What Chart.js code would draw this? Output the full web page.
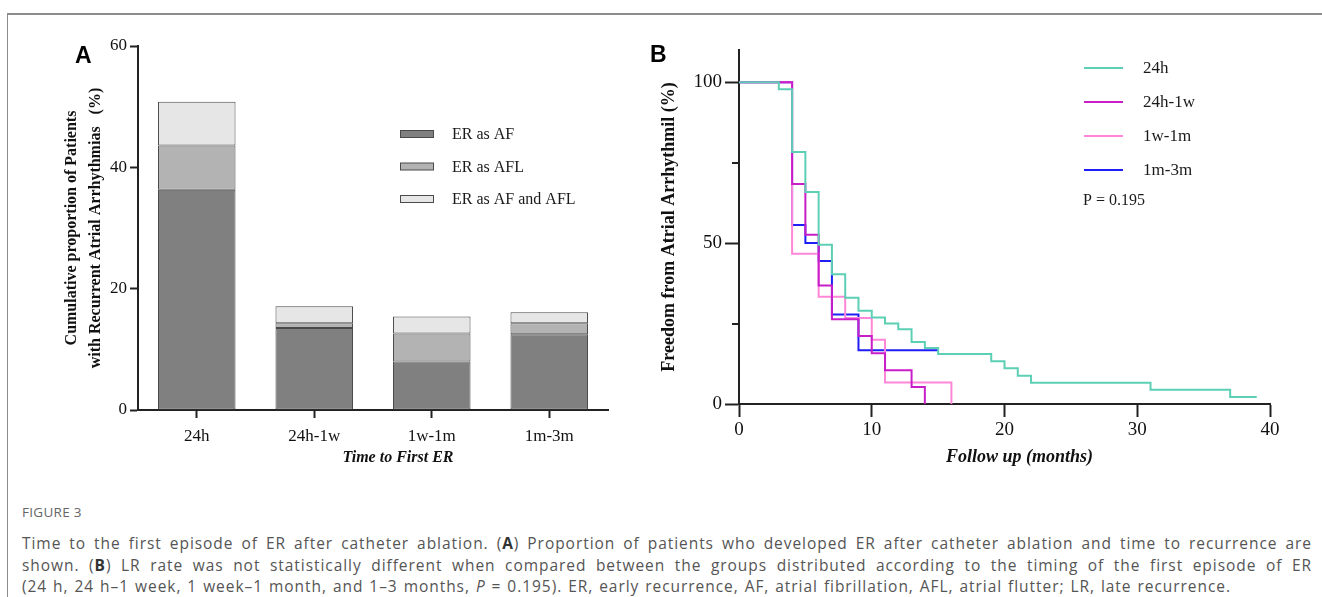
<!DOCTYPE html>
<html>
<head>
<meta charset="utf-8">
<script src="https://cdn.jsdelivr.net/npm/chart.js@4.4.1/dist/chart.umd.min.js"></script>
<style>
  html, body { margin:0; padding:0; background:#fff; }
  body { width:1322px; height:597px; position:relative; overflow:hidden; }
  #topline { position:absolute; left:7px; top:13px; width:1315px; height:2px; background:#8c8c8c; }
  #leftline { position:absolute; left:7px; top:13px; width:1px; height:584px; background:#8c8c8c; }
  #wa { position:absolute; left:0; top:0; width:640px; height:480px; }
  #wb { position:absolute; left:640px; top:0; width:682px; height:480px; }
  .plab { position:absolute; font-family:'Liberation Sans', Arial, sans-serif; font-weight:bold; font-size:23px; line-height:23px; color:#000; }
  #cap { position:absolute; left:22px; top:502px; width:1290px; font-family:'Open Sans', 'Noto Sans', sans-serif; color:#555; }
  #cap .fig { font-size:13.5px; line-height:20px; margin-bottom:11px; color:#666; letter-spacing:0.3px; }
  #cap .ln { font-size:15.5px; line-height:21.7px; white-space:nowrap; letter-spacing:0.95px; word-spacing:1px; }
  #cap .j { text-align:justify; text-align-last:justify; white-space:normal; }
  #cap b { color:#333; }
</style>
</head>
<body>
<div id="topline"></div>
<div id="leftline"></div>
<div id="wa"><canvas id="cA"></canvas></div>
<div id="wb"><canvas id="cB"></canvas></div>
<div class="plab" style="left:75px; top:44px;">A</div>
<div class="plab" style="left:650px; top:43px;">B</div>
<div id="cap">
  <div class="fig">FIGURE 3</div>
  <div class="ln j">Time to the first episode of ER after catheter ablation. (<b>A</b>) Proportion of patients who developed ER after catheter ablation and time to recurrence are</div>
  <div class="ln j">shown. (<b>B</b>) LR rate was not statistically different when compared between the groups distributed according to the timing of the first episode of ER</div>
  <div class="ln">(24&nbsp;h, 24&nbsp;h–1&nbsp;week, 1&nbsp;week–1&nbsp;month, and 1–3&nbsp;months, <i>P</i>&nbsp;=&nbsp;0.195). ER, early recurrence, AF, atrial fibrillation, AFL, atrial flutter; LR, late recurrence.</div>
</div>
<script>
// ---------- Panel A data ----------
const categories = ['24h', '24h-1w', '1w-1m', '1m-3m'];
const seriesA = ['ER as AF', 'ER as AFL', 'ER as AF and AFL'];
const erAF   = [36.3, 13.5, 8.0, 12.5];
const erAFL  = [7.3, 0.8, 4.6, 1.8];
const erBoth = [7.2, 2.8, 2.8, 1.8];
const yTicksA = [0, 20, 40, 60];

// ---------- Panel B data (Kaplan-Meier steps) ----------
const groupsB = ['24h', '24h-1w', '1w-1m', '1m-3m'];
const t24h   = [0, 3, 4, 5, 6, 7, 8, 9, 10, 11, 12, 13, 14, 15, 19, 20, 21, 22, 31, 37, 39];
const s24h   = [100, 97.8, 78.3, 65.9, 49.5, 40.3, 33.0, 29.0, 26.9, 25.0, 23.2, 19.3, 17.4, 15.5, 13.3, 11.1, 8.8, 6.6, 4.4, 2.2, 2.2];
const t24h1w = [0, 4, 5, 6, 7, 9, 10, 11, 13, 14];
const s24h1w = [100, 68.4, 52.6, 36.8, 26.3, 21.1, 15.8, 10.5, 5.3, 0];
const t1w1m  = [0, 4, 6, 8, 10, 11, 16];
const s1w1m  = [100, 46.7, 33.3, 26.7, 20.0, 6.7, 0];
const t1m3m  = [0, 4, 5, 6, 7, 9, 15];
const s1m3m  = [100, 55.6, 50.0, 44.4, 27.8, 16.7, 16.7];
const xTicksB = [0, 10, 20, 30, 40];
const yTickValuesB = [0, 25, 50, 75, 100];
const yTickLabelsB = ['0', '', '50', '', '100'];
const pValueText = 'P = 0.195';

const SERIF = "'Liberation Serif', 'Times New Roman', serif";
const colorsA = ['#808080', '#b3b3b3', '#e6e6e6'];
const colorsB = ['#5ccfb5', '#c81ec8', '#ff86d8', '#1e1ef5'];

// ---------- plugins ----------
const legendAPlugin = {
  id: 'legendA',
  afterDraw(chart) {
    const ctx = chart.ctx, a = chart.chartArea;
    ctx.save();
    chart.data.datasets.forEach((ds, i) => {
      const y = a.top + 88 + i * 32.5;
      const x = a.left + 262;
      ctx.fillStyle = ds.backgroundColor;
      ctx.fillRect(x, y - 3.5, 33, 7);
      ctx.strokeStyle = '#4a4a4a';
      ctx.lineWidth = 1;
      ctx.strokeRect(x + 0.5, y - 3.5, 33, 7);
      ctx.fillStyle = '#1a1a1a';
      ctx.font = '16px ' + SERIF;
      ctx.textAlign = 'left';
      ctx.textBaseline = 'middle';
      ctx.fillText(ds.label, x + 52, y + 1);
    });
    ctx.restore();
  }
};

const xTitlePlugin = {
  id: 'xTitle',
  afterDraw(chart, args, opts) {
    const ctx = chart.ctx, a = chart.chartArea;
    ctx.save();
    ctx.font = opts.font;
    ctx.fillStyle = '#111';
    ctx.textAlign = 'center';
    ctx.textBaseline = 'middle';
    ctx.fillText(opts.text, (a.left + a.right) / 2 + opts.dx, a.bottom + opts.dy);
    ctx.restore();
  }
};

const legendBPlugin = {
  id: 'legendB',
  afterDraw(chart) {
    const ctx = chart.ctx, a = chart.chartArea;
    const yScale = chart.scales.y;
    ctx.save();
    // minor ticks at 25 and 75
    ctx.strokeStyle = '#222';
    ctx.lineWidth = 2;
    yTickValuesB.forEach((v, i) => {
      if (yTickLabelsB[i] === '') {
        const py = Math.round(yScale.getPixelForValue(v));
        ctx.beginPath();
        ctx.moveTo(a.left - 7, py);
        ctx.lineTo(a.left, py);
        ctx.stroke();
      }
    });
    // legend
    chart.data.datasets.forEach((ds, i) => {
      const y = a.top + 18 + i * 34;
      const x = a.left + 345;
      ctx.strokeStyle = ds.borderColor;
      ctx.lineWidth = 2;
      ctx.beginPath();
      ctx.moveTo(x, y);
      ctx.lineTo(x + 39, y);
      ctx.stroke();
      ctx.fillStyle = '#1a1a1a';
      ctx.font = '17px ' + SERIF;
      ctx.textAlign = 'left';
      ctx.textBaseline = 'middle';
      ctx.fillText(ds.label, x + 59, y + 1);
    });
    ctx.font = '16px ' + SERIF;
    ctx.fillText(pValueText, a.left + 344, a.top + 151);
    ctx.restore();
  }
};

// ---------- Chart A ----------
const dsA = [erAF, erAFL, erBoth].map((d, i) => ({
  label: seriesA[i],
  data: d,
  backgroundColor: colorsA[i],
  borderColor: '#4a4a4a',
  borderWidth: 1,
  borderSkipped: false,
  barPercentage: 0.66,
  categoryPercentage: 1.0
}));

new Chart(document.getElementById('cA'), {
  type: 'bar',
  data: { labels: categories, datasets: dsA },
  options: {
    responsive: true, maintainAspectRatio: false, animation: false,
    layout: { padding: { top: 46, right: 32, left: 0, bottom: 0 } },
    plugins: {
      legend: { display: false }, tooltip: { enabled: false },
      xTitle: { text: 'Time to First ER', font: 'italic bold 16px ' + SERIF, dx: 25, dy: 48 }
    },
    scales: {
      x: {
        stacked: true, offset: true,
        grid: { display: true, drawOnChartArea: false, offset: false, tickLength: 8, tickColor: '#222', tickWidth: 2 },
        border: { display: true, color: '#222', width: 2 },
        ticks: { font: { family: SERIF, size: 17 }, color: '#111', padding: 8 },
        afterFit: s => { s.height = 70; }
      },
      y: {
        stacked: true, min: 0, max: 60,
        afterBuildTicks: s => { s.ticks = yTicksA.map(v => ({ value: v })); },
        ticks: { font: { family: SERIF, size: 17 }, color: '#111', padding: 3 },
        grid: { display: true, drawOnChartArea: false, tickLength: 8, tickColor: '#222', tickWidth: 2 },
        border: { display: true, color: '#222', width: 2 },
        title: {
          display: true,
          text: ['Cumulative proportion of Patients', 'with Recurrent Atrial Arrhythmias   (%)'],
          font: { family: SERIF, size: 16, weight: 'bold', lineHeight: 1.5 },
          color: '#111',
          padding: { top: 60, bottom: 0 }
        },
        afterFit: s => { s.width = 138; }
      }
    }
  },
  plugins: [legendAPlugin, xTitlePlugin]
});

// ---------- Chart B ----------
const timesB = [t24h, t24h1w, t1w1m, t1m3m];
const survB = [s24h, s24h1w, s1w1m, s1m3m];
const dsB = groupsB.map((g, i) => ({
  label: g,
  data: timesB[i].map((t, k) => ({ x: t, y: survB[i][k] })),
  borderColor: colorsB[i],
  backgroundColor: colorsB[i],
  borderWidth: 2,
  pointRadius: 0,
  fill: false,
  stepped: 'before',
  tension: 0
}));

new Chart(document.getElementById('cB'), {
  type: 'line',
  data: { datasets: dsB },
  options: {
    responsive: true, maintainAspectRatio: false, animation: false,
    layout: { padding: { top: 50, right: 52, left: 0, bottom: 0 } },
    plugins: {
      legend: { display: false }, tooltip: { enabled: false },
      xTitle: { text: 'Follow up (months)', font: 'italic bold 18px ' + SERIF, dx: 15, dy: 53 }
    },
    scales: {
      x: {
        type: 'linear', min: 0, max: 40,
        afterBuildTicks: s => { s.ticks = xTicksB.map(v => ({ value: v })); },
        ticks: { font: { family: SERIF, size: 19 }, color: '#111', padding: 2 },
        grid: { display: true, drawOnChartArea: false, tickLength: 13, tickColor: '#222', tickWidth: 2 },
        border: { display: true, color: '#222', width: 2 },
        afterFit: s => { s.height = 76; }
      },
      y: {
        type: 'linear', min: 0, max: 110,
        afterBuildTicks: s => { s.ticks = yTickValuesB.map(v => ({ value: v })); },
        ticks: { font: { family: SERIF, size: 19 }, color: '#111', padding: 3,
                 callback: (v, i) => yTickLabelsB[i] },
        grid: { display: true, drawOnChartArea: false, tickLength: 14, tickWidth: 2,
                tickColor: c => (c.tick && yTickLabelsB[yTickValuesB.indexOf(c.tick.value)] !== '') ? '#222' : 'rgba(0,0,0,0)' },
        border: { display: true, color: '#222', width: 2 },
        title: {
          display: true,
          text: 'Freedom from Atrial Arrhythmil (%)',
          font: { family: SERIF, size: 18, weight: 'bold' },
          color: '#111',
          padding: { top: 19, bottom: 0 }
        },
        afterFit: s => { s.width = 99; }
      }
    }
  },
  plugins: [legendBPlugin, xTitlePlugin]
});
</script>
</body>
</html>
